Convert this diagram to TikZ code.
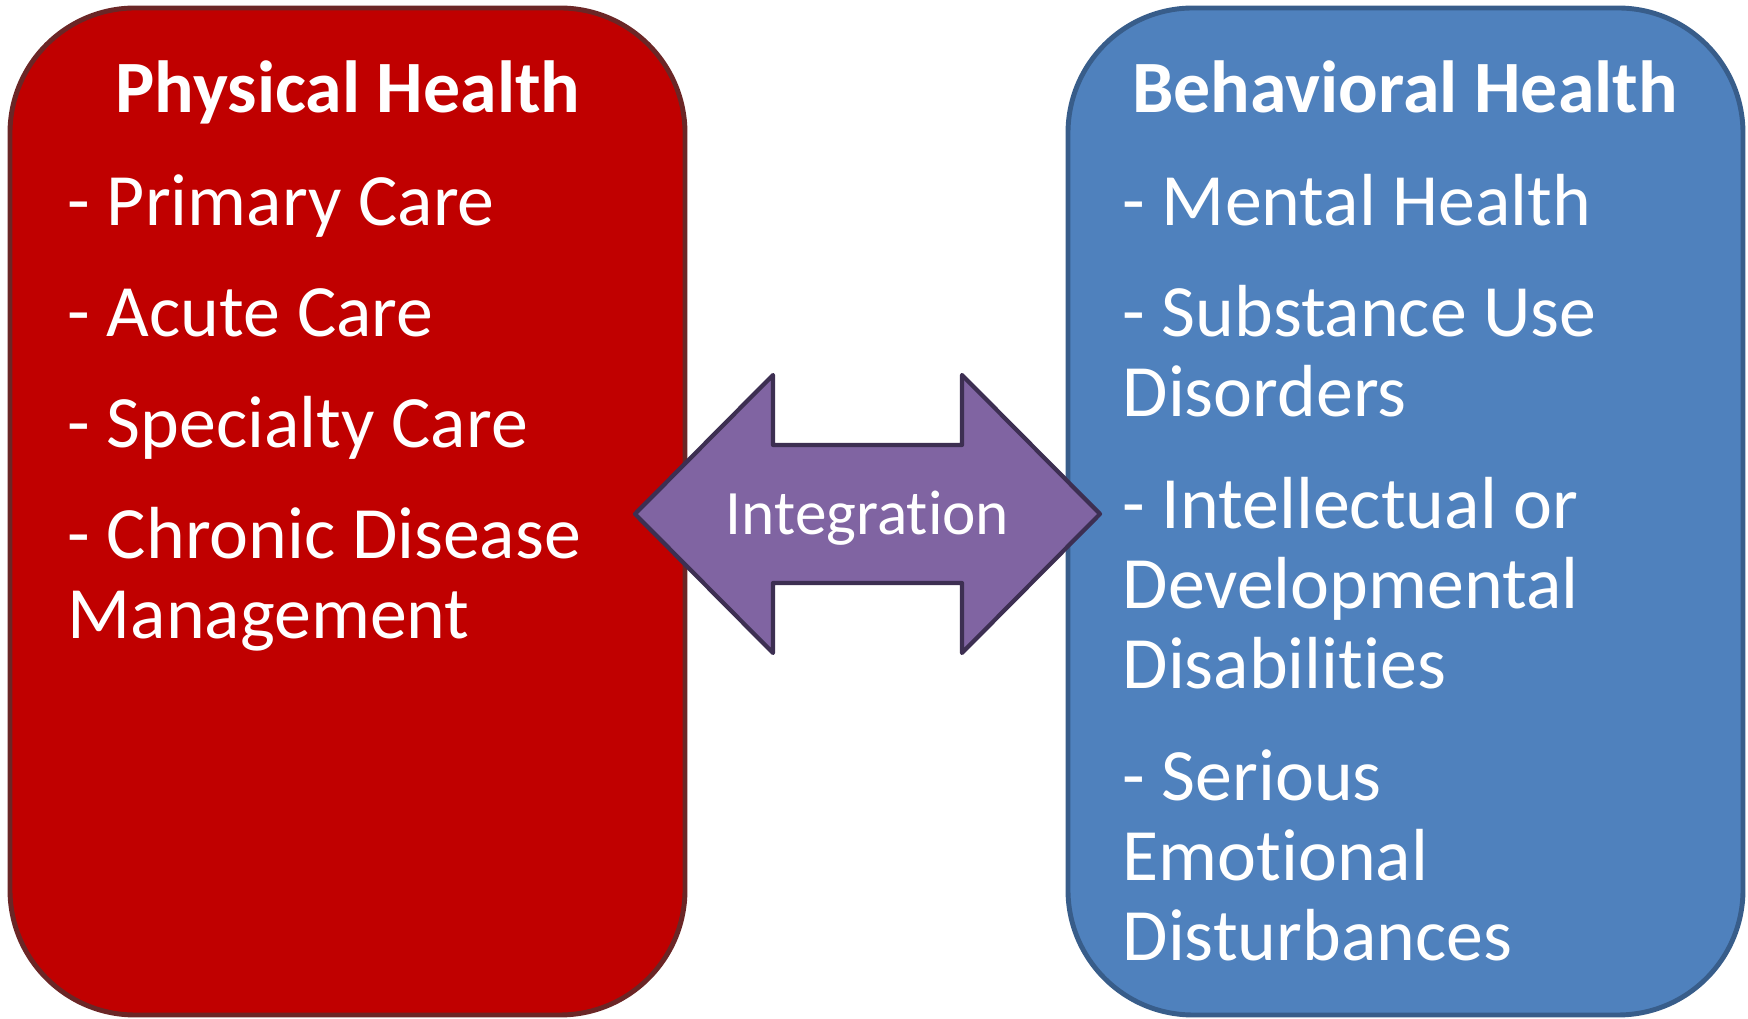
\documentclass[tikz,border=0pt]{standalone}
\usepackage{fontspec}
\setmainfont[Ligatures=NoCommon]{Carlito}
\definecolor{physred}{HTML}{C00000}
\definecolor{physedge}{HTML}{6B2626}
\definecolor{behblue}{HTML}{4F81BD}
\definecolor{behedge}{HTML}{385D8A}
\definecolor{integfill}{HTML}{8064A2}
\definecolor{integedge}{HTML}{3D2F52}
\begin{document}
\begin{tikzpicture}[line join=round,
	box/.style={rounded corners=1.25cm, line width=1.4pt, minimum width=6.75cm, minimum height=10.07cm},
	head/.style={font=\fontsize{21}{22.8}\selectfont\bfseries, text=white, anchor=base, inner sep=0pt},
	item/.style={font=\fontsize{21}{22.8}\selectfont, text=white, anchor=base west, align=left, inner sep=0pt}]
		\useasboundingbox (0,0) rectangle (17.48,10.19);
		%\draw[line width=0.05pt,gray,dashed] (0,0) grid (17.48,10.19);
		\node[box, draw=physedge, fill=physred] (phys) at (3.475,5.075) {};
		\node[box, draw=behedge, fill=behblue] (behav) at (14.055,5.075) {};
		\draw[line width=1.2pt, draw=integedge, fill=integfill] (6.35,5.05)--(7.73,6.44)--(7.73,5.74)--(9.62,5.74)--(9.62,6.44)--(11,5.05)--(9.62,3.66)--(9.62,4.36)--(7.73,4.36)--(7.73,3.66)--cycle;
		\node[font=\fontsize{18}{20}\selectfont, text=white, anchor=base] (integ) at (8.675,4.84) {Integration};
		\node[head] (physT) at (3.48,9.06) {Physical Health};
		\node[head] (behavT) at (14.05,9.06) {Behavioral Health};
		% base of a node = its last line
		\node[item] (prim) at (0.67,7.93) {- Primary Care};
		\node[item] (acute) at (0.67,6.82) {- Acute Care};
		\node[item] (spec) at (0.67,5.71) {- Specialty Care};
		\node[item] (chron) at (0.67,3.80) {- Chronic Disease\\Management};
		\node[item] (ment) at (11.22,7.93) {- Mental Health};
		\node[item] (subst) at (11.22,6.02) {- Substance Use\\Disorders};
		\node[item] (intel) at (11.22,3.30) {- Intellectual or\\Developmental\\Disabilities};
		\node[item] (emot) at (11.22,0.58) {- Serious\\Emotional\\Disturbances};
	\end{tikzpicture}
\end{document}
